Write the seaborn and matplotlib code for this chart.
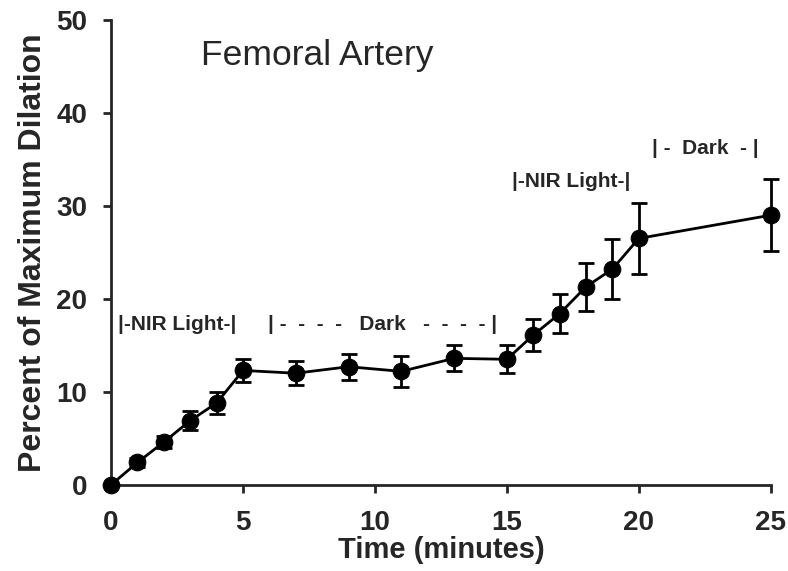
import numpy as np
import pandas as pd
import matplotlib.pyplot as plt
import seaborn as sns

time_min = [0, 1, 2, 3, 4, 5, 7, 9, 11, 13, 15, 16, 17, 18, 19, 20, 25]
dilation = [0, 2.4, 4.6, 6.9, 8.8, 12.3, 12.0, 12.7, 12.2, 13.6, 13.5, 16.1, 18.4, 21.3, 23.2, 26.5, 29.0]
sem = [0, 0.5, 0.6, 1.0, 1.2, 1.2, 1.3, 1.4, 1.7, 1.4, 1.5, 1.7, 2.1, 2.6, 3.2, 3.8, 3.9]

df = pd.DataFrame({"Time": time_min, "Dilation": dilation, "SEM": sem})

sns.set_style("ticks")
plt.rcParams['font.family'] = ['Liberation Sans', 'DejaVu Sans']

fig = plt.figure(figsize=(7.88, 5.71), dpi=100)
ax = fig.add_axes([0.141, 0.151, 0.837, 0.814])

ax.errorbar(df["Time"], df["Dilation"], yerr=df["SEM"], fmt='none',
            ecolor='black', elinewidth=2, capsize=6, capthick=2, zorder=2,
            clip_on=False)
sns.lineplot(data=df, x="Time", y="Dilation", ax=ax, color='black',
             linewidth=2, marker='o', markersize=12, markeredgecolor='black',
             clip_on=False, zorder=3)

ax.set_xlim(0, 25)
ax.set_ylim(0, 50)
ax.set_xticks([0, 5, 10, 15, 20, 25])
ax.set_yticks([0, 10, 20, 30, 40, 50])
ax.tick_params(axis='both', labelsize=20, width=2, length=6)
ax.tick_params(axis='y', pad=11)
ax.tick_params(axis='x', pad=12)
for lbl in ax.get_xticklabels() + ax.get_yticklabels():
    lbl.set_fontweight('bold')
for side in ['left', 'bottom']:
    ax.spines[side].set_linewidth(2)
sns.despine(ax=ax)

ax.set_xlabel("Time (minutes)", fontsize=21, fontweight='bold', labelpad=0)
ax.set_ylabel("Percent of Maximum Dilation", fontsize=23, fontweight='bold', labelpad=6)

ax.text(3.4, 46.2, "Femoral Artery", fontsize=25.5, ha='left', va='center')
ax.text(0.25, 17.2, "|-NIR Light-|", fontsize=15, fontweight='bold', ha='left', va='center')
ax.text(5.95, 17.2, "| -  -  -  -   Dark   -  -  -  - |", fontsize=15, fontweight='bold', ha='left', va='center')
ax.text(15.2, 32.6, "|-NIR Light-|", fontsize=15, fontweight='bold', ha='left', va='center')
ax.text(20.5, 36.2, "| -  Dark  - |", fontsize=15, fontweight='bold', ha='left', va='center')

fig.savefig("out.png", dpi=100)
